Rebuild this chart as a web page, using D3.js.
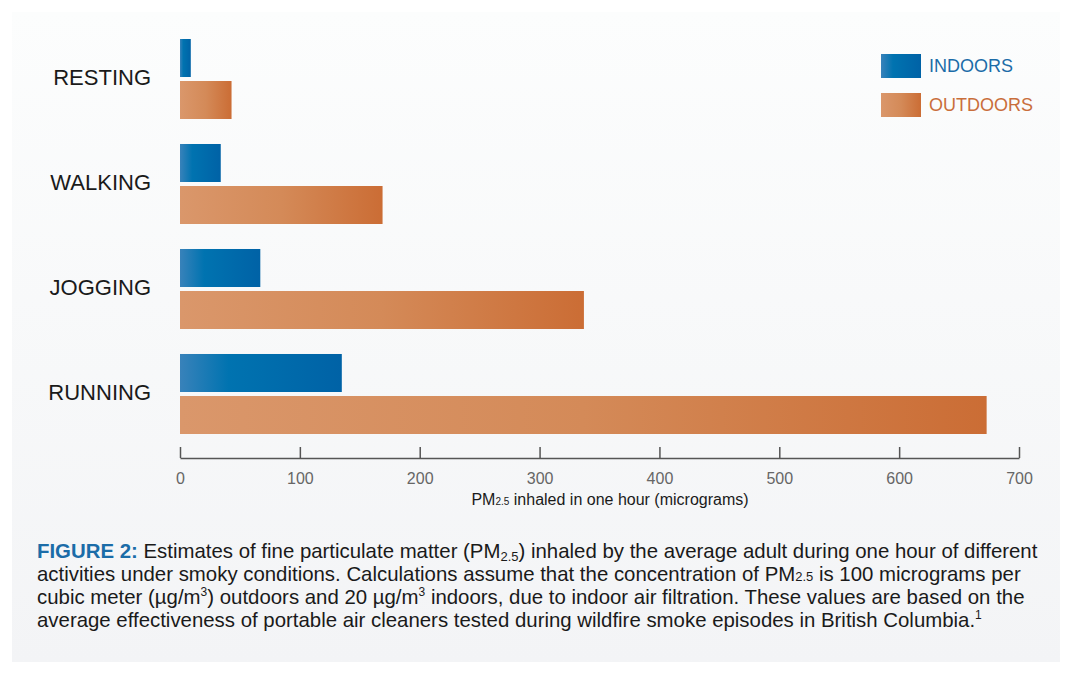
<!DOCTYPE html>
<html>
<head>
<meta charset="utf-8">
<script src="https://cdn.jsdelivr.net/npm/d3@7"></script>
<style>
  html, body { margin: 0; padding: 0; background: #ffffff; }
  svg { display: block; font-family: "Liberation Sans", Arial, Helvetica, sans-serif; }
</style>
</head>
<body>
<svg id="chart" width="1072" height="674"></svg>
<script>
const categories = ["RESTING", "WALKING", "JOGGING", "RUNNING"];
const seriesNames = ["INDOORS", "OUTDOORS"];
const indoorValues = [9, 34, 67, 135];
const outdoorValues = [43, 169, 337, 673];
const tickValues = [0, 100, 200, 300, 400, 500, 600, 700];
const captionLines = [
  [{t: "FIGURE 2:", b: true}, {t: " Estimates of fine particulate matter (PM"}, {t: "2.5", sub: true}, {t: ") inhaled by the average adult during one hour of different"}],
  [{t: "activities under smoky conditions. Calculations assume that the concentration of PM"}, {t: "2.5", sm: true}, {t: " is 100 micrograms per"}],
  [{t: "cubic meter (µg/m"}, {t: "3", sup: true}, {t: ") outdoors and 20 µg/m"}, {t: "3", sup: true}, {t: " indoors, due to indoor air filtration. These values are based on the"}],
  [{t: "average effectiveness of portable air cleaners tested during wildfire smoke episodes in British Columbia."}, {t: "1", sup: true}]
];

const data = categories.map((c, i) => ({cat: c, values: [
  {key: "INDOORS", v: indoorValues[i]},
  {key: "OUTDOORS", v: outdoorValues[i]}
]}));

const svg = d3.select("#chart");
const defs = svg.append("defs");

const bgGrad = defs.append("linearGradient").attr("id", "bg").attr("x1", 0).attr("y1", 0).attr("x2", 0).attr("y2", 1);
bgGrad.append("stop").attr("offset", 0).attr("stop-color", "#fcfdfd");
bgGrad.append("stop").attr("offset", 1).attr("stop-color", "#f3f4f6");

const blue = defs.append("linearGradient").attr("id", "gBlue");
blue.append("stop").attr("offset", 0).attr("stop-color", "#3882ba");
blue.append("stop").attr("offset", 0.3).attr("stop-color", "#0073b0");
blue.append("stop").attr("offset", 1).attr("stop-color", "#0062a6");
const orange = defs.append("linearGradient").attr("id", "gOrange");
orange.append("stop").attr("offset", 0).attr("stop-color", "#da976b");
orange.append("stop").attr("offset", 0.5).attr("stop-color", "#d48a58");
orange.append("stop").attr("offset", 1).attr("stop-color", "#cb6d35");

svg.append("rect").attr("x", 12).attr("y", 12).attr("width", 1048).attr("height", 650).attr("fill", "url(#bg)");

const x = d3.scaleLinear().domain([0, 700]).range([180, 1019]);
const y0 = d3.scaleBand().domain(categories).range([39, 434]).paddingInner(0.238).paddingOuter(0);
const y1 = d3.scaleBand().domain(seriesNames).range([0, y0.bandwidth()]).paddingInner(4 / 42).paddingOuter(0);
const fills = {INDOORS: "url(#gBlue)", OUTDOORS: "url(#gOrange)"};
const textColors = {INDOORS: "#1b6ca8", OUTDOORS: "#c96e3b"};

const groups = svg.append("g").selectAll("g").data(data).join("g")
  .attr("transform", d => `translate(0,${y0(d.cat)})`);
groups.selectAll("rect").data(d => d.values).join("rect")
  .attr("x", x(0))
  .attr("y", d => y1(d.key))
  .attr("width", d => x(d.v) - x(0))
  .attr("height", y1.bandwidth())
  .attr("fill", d => fills[d.key]);

groups.append("text")
  .attr("x", 151)
  .attr("y", y0.bandwidth() / 2 - 2)
  .attr("dy", "0.36em")
  .attr("text-anchor", "end")
  .attr("font-size", 22)
  .attr("fill", "#1a1a1a")
  .text(d => d.cat);

// axis
const axis = d3.axisBottom(x).tickValues(tickValues).tickSize(-11).tickPadding(24).tickSizeOuter(0);
const ax = svg.append("g").attr("transform", "translate(0,458)").call(axis);
ax.select(".domain").attr("stroke", "#555").attr("stroke-width", 1.5);
ax.selectAll(".tick line").attr("stroke", "#555").attr("stroke-width", 1.5);
ax.selectAll(".tick text").attr("font-size", 16).attr("fill", "#666").attr("font-family", "Liberation Sans, Arial, sans-serif").attr("dy", "0.1em");

const title = svg.append("text").attr("x", 610).attr("y", 505).attr("text-anchor", "middle")
  .attr("font-size", 16).attr("fill", "#1a1a1a");
title.append("tspan").text("PM");
title.append("tspan").attr("font-size", 10).text("2.5");
title.append("tspan").text(" inhaled in one hour (micrograms)");

// legend
const leg = svg.append("g").selectAll("g").data(seriesNames).join("g")
  .attr("transform", (d, i) => `translate(881,${54 + i * 39})`);
leg.append("rect").attr("width", 40).attr("height", 24).attr("fill", d => fills[d]);
leg.append("text").attr("x", 48).attr("y", 12).attr("dy", "0.35em")
  .attr("font-size", 18).attr("fill", d => textColors[d]).text(d => d);

// caption
const cap = svg.append("g");
captionLines.forEach((line, i) => {
  const t = cap.append("text").attr("x", 37).attr("y", 558 + i * 23).attr("font-size", 20.4).attr("fill", "#1a1a1a");
  line.forEach(p => {
    const s = t.append("tspan").text(p.t);
    if (p.b) s.attr("font-weight", "bold").attr("fill", "#1b6ca8");
    if (p.sub) s.attr("font-size", 13).attr("dy", 3);
    if (p.sm) s.attr("font-size", 13);
    if (p.sup) s.attr("font-size", 12).attr("dy", -8);
  });
  const spans = t.selectAll("tspan").nodes();
  for (let k = 1; k < spans.length; k++) {
    const prev = line[k - 1];
    if (prev.sub) d3.select(spans[k]).attr("dy", -3);
    if (prev.sup && !line[k].sup) d3.select(spans[k]).attr("dy", 8);
  }
});
</script>
</body>
</html>
